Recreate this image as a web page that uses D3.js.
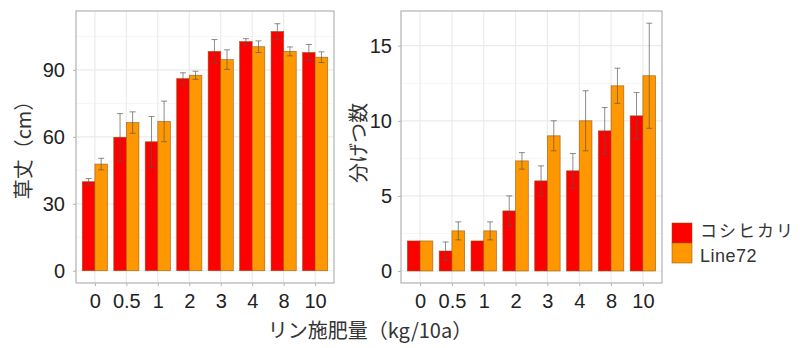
<!DOCTYPE html>
<html>
<head>
<meta charset="utf-8">
<script src="https://d3js.org/d3.v7.min.js"></script>
<style>
  body { margin: 0; background: #fff; }
  text { font-family: "Liberation Sans", Arial, sans-serif; fill: #222; }
  .jp { font-family: "Noto Sans CJK JP", sans-serif; }
</style>
</head>
<body>
<svg width="800" height="348"></svg>
<script>
// P rate categories (kg/10a)
const rates = ["0", "0.5", "1", "2", "3", "4", "8", "10"];
const varieties = ["コシヒカリ", "Line72"];
const colors = ["#ff0000", "#ff9800"];

// plant height (cm): mean and SE
const heightKoshi = [39.9, 59.8, 57.8, 86.1, 98.3, 102.7, 107.2, 97.8];
const heightKoshiSE = [1.4, 10.6, 11.3, 2.6, 5.3, 1.3, 3.5, 3.6];
const heightLine = [47.8, 66.4, 66.9, 87.6, 94.6, 100.4, 98.3, 95.7];
const heightLineSE = [2.6, 4.8, 9.1, 1.8, 4.4, 2.6, 2.0, 2.4];

// tiller number: mean and SE
const tillerKoshi = [2.0, 1.33, 2.0, 4.0, 6.0, 6.67, 9.33, 10.33];
const tillerKoshiSE = [0, 0.6, 0, 1.0, 1.0, 1.15, 1.55, 1.55];
const tillerLine = [2.0, 2.67, 2.67, 7.33, 9.0, 10.0, 12.33, 13.0];
const tillerLineSE = [0, 0.6, 0.6, 0.55, 1.0, 2.0, 1.17, 3.5];

const heightTicks = [0, 30, 60, 90];
const tillerTicks = [0, 5, 10, 15];

const svg = d3.select("svg");

function panel(opt) {
  const g = svg.append("g");
  const x = d3.scaleLinear().domain([0.4, 8.6]).range([opt.left, opt.right]);
  const y = d3.scaleLinear().domain(opt.domain).range([opt.bottom, opt.top]);

  // grid: minor then major
  const step = opt.ticks[1] - opt.ticks[0];
  const minor = opt.ticks.map(t => t + step / 2).filter(v => v < opt.domain[1]);
  g.selectAll(".minor").data(minor).enter().append("line")
    .attr("x1", opt.left).attr("x2", opt.right)
    .attr("y1", d => y(d)).attr("y2", d => y(d))
    .attr("stroke", "#f2f2f2").attr("stroke-width", 0.8);
  g.selectAll(".hmajor").data(opt.ticks).enter().append("line")
    .attr("x1", opt.left).attr("x2", opt.right)
    .attr("y1", d => y(d)).attr("y2", d => y(d))
    .attr("stroke", "#ebebeb").attr("stroke-width", 1.2);
  g.selectAll(".vmajor").data(rates).enter().append("line")
    .attr("x1", (d, i) => x(i + 1)).attr("x2", (d, i) => x(i + 1))
    .attr("y1", opt.top).attr("y2", opt.bottom)
    .attr("stroke", "#ebebeb").attr("stroke-width", 1.2);

  // bars
  const bw = 0.4;
  opt.series.forEach((s, k) => {
    const data = s.mean.map((m, i) => ({ i: i, m: m, se: s.se[i] }));
    g.selectAll(".bar" + k).data(data).enter().append("rect")
      .attr("x", d => x(d.i + 1 - bw + k * bw))
      .attr("width", x(bw) - x(0))
      .attr("y", d => y(d.m))
      .attr("height", d => y(0) - y(d.m))
      .attr("fill", colors[k])
      .attr("stroke", "#8a5010").attr("stroke-opacity", 0.75).attr("stroke-width", 0.7);
  });
  // error bars
  opt.series.forEach((s, k) => {
    const data = s.mean.map((m, i) => ({ i: i, m: m, se: s.se[i] })).filter(d => d.se > 0);
    const cx = d => x(d.i + 1 - bw / 2 + k * bw);
    const eb = g.selectAll(".eb" + k).data(data).enter().append("g")
      .attr("stroke", "#555").attr("stroke-opacity", 0.75).attr("stroke-width", 0.9);
    eb.append("line").attr("x1", cx).attr("x2", cx)
      .attr("y1", d => y(d.m - d.se)).attr("y2", d => y(d.m + d.se));
    eb.append("line").attr("x1", d => cx(d) - 3).attr("x2", d => cx(d) + 3)
      .attr("y1", d => y(d.m + d.se)).attr("y2", d => y(d.m + d.se));
    eb.append("line").attr("x1", d => cx(d) - 3).attr("x2", d => cx(d) + 3)
      .attr("y1", d => y(d.m - d.se)).attr("y2", d => y(d.m - d.se));
  });

  // frame
  g.append("rect").attr("x", opt.left).attr("y", opt.top)
    .attr("width", opt.right - opt.left).attr("height", opt.bottom - opt.top)
    .attr("fill", "none").attr("stroke", "#b3b3b3").attr("stroke-width", 1.2);

  // axes
  const yAxis = d3.axisLeft(y).tickValues(opt.ticks).tickSize(3).tickPadding(opt.yPad);
  const ya = g.append("g").attr("transform", `translate(${opt.left},0)`).call(yAxis);
  const xAxis = d3.axisBottom(d3.scalePoint().domain(rates).range([x(1), x(8)]))
    .tickSize(3).tickPadding(8);
  const xa = g.append("g").attr("transform", `translate(0,${opt.bottom})`).call(xAxis);
  [ya, xa].forEach(a => {
    a.attr("font-family", null);
    a.select(".domain").remove();
    a.selectAll(".tick line").attr("stroke", "#b3b3b3");
    a.selectAll("text")
      .style("font-family", "'Liberation Sans', Arial, sans-serif")
      .style("font-size", "20px").attr("fill", "#1a1a1a");
  });

  g.append("text").attr("class", "jp")
    .attr("transform", `translate(${opt.titleX},${opt.titleY}) rotate(-90)`)
    .attr("text-anchor", "middle").attr("dominant-baseline", "central")
    .style("font-size", "20px").style("fill", "#333")
    .text(opt.title);
}

panel({
  left: 76, right: 334, top: 11, bottom: 283, yPad: 8,
  domain: [-5.5, 116.4], ticks: heightTicks, title: "草丈（cm）", titleX: 22, titleY: 145,
  series: [{ mean: heightKoshi, se: heightKoshiSE }, { mean: heightLine, se: heightLineSE }]
});
panel({
  left: 401, right: 662, top: 11, bottom: 283, yPad: 6,
  domain: [-0.8, 17.31], ticks: tillerTicks, title: "分げつ数", titleX: 357, titleY: 143,
  series: [{ mean: tillerKoshi, se: tillerKoshiSE }, { mean: tillerLine, se: tillerLineSE }]
});

// x title
svg.append("text").attr("class", "jp")
  .attr("x", 370).attr("y", 338).attr("text-anchor", "middle")
  .style("font-size", "20px").style("fill", "#333")
  .text("リン施肥量（kg/10a）");

// legend
const lg = svg.append("g").attr("transform", "translate(672,223)");
varieties.forEach((v, k) => {
  lg.append("rect").attr("x", 0).attr("y", k * 20).attr("width", 20).attr("height", 20)
    .attr("fill", colors[k]).attr("stroke", "#8a5010").attr("stroke-opacity", 0.75).attr("stroke-width", 0.7);
  lg.append("text").attr("class", k === 0 ? "jp" : null)
    .attr("x", 28).attr("y", k === 0 ? 14 : 39)
    .style("font-size", k === 0 ? "17px" : "18px")
    .style("letter-spacing", k === 0 ? "2px" : "0.5px")
    .style("fill", "#333").text(v);
});
</script>
</body>
</html>
